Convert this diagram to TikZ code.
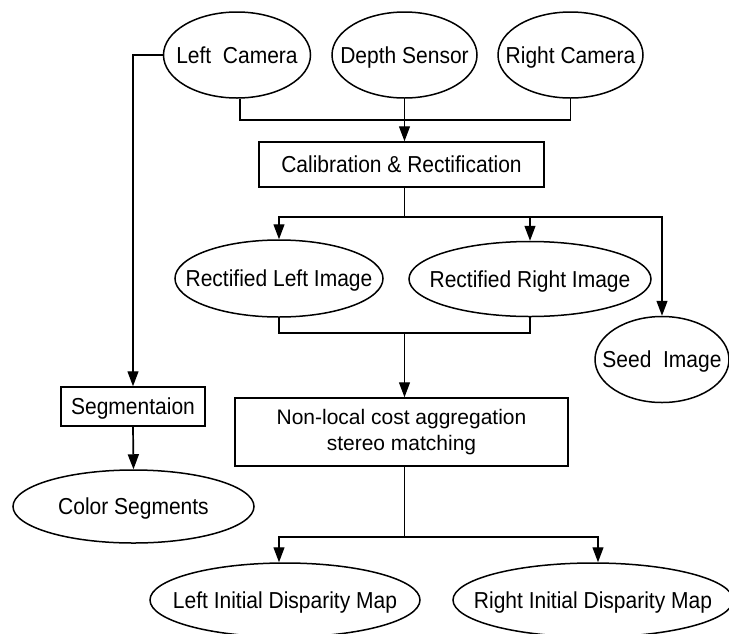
\documentclass[tikz,border=0pt]{standalone}
\usepackage{fontspec}
\setmainfont{Liberation Sans}
\usetikzlibrary{shapes.geometric,arrows.meta}
\newcommand{\zt}[1]{\raisebox{-0.39em}[0pt][0pt]{\makebox[0pt]{\scalebox{1}[1.1]{#1}}}}
\begin{document}
\begin{tikzpicture}[x=1pt,y=-1pt,
  every node/.style={font=\fontsize{21}{26}\selectfont, inner sep=0pt},
  ell/.style={shape=ellipse, draw, line width=1.5pt},
  boxx/.style={shape=rectangle, draw, line width=1.5pt},
  conn/.style={line width=1.3pt},
  arr/.style={conn, -{Triangle[length=15pt,width=11pt]}}]
\useasboundingbox (0,0) rectangle (729,633);
% nodes
\node[ell, minimum width=147, minimum height=86] (lc) at (237,55) {\zt{Left\ \ Camera}};
\node[ell, minimum width=145, minimum height=86] (ds) at (404.5,55) {\zt{Depth Sensor}};
\node[ell, minimum width=145, minimum height=86] (rc) at (570.5,55) {\zt{Right Camera}};
\node[boxx, minimum width=285, minimum height=45] (cal) at (401.5,164.5) {\zt{Calibration \& Rectification}};
\node[ell, minimum width=208, minimum height=77] (rli) at (279,278.5) {\zt{Rectified Left Image}};
\node[ell, minimum width=242, minimum height=75] (rri) at (530,279) {\zt{Rectified Right Image}};
\node[ell, minimum width=134, minimum height=86] (seed) at (662,359.5) {\zt{Seed\ \ Image}};
\node[boxx, minimum width=144, minimum height=39] (seg) at (133,406.5) {\zt{Segmentaion}};
\node[boxx, minimum width=333, minimum height=68, align=center] (nl) at (401.5,432) {Non-local cost aggregation\\stereo matching};
\node[ell, minimum width=241, minimum height=73] (cs) at (133.5,506.5) {\zt{Color Segments}};
\node[ell, minimum width=270, minimum height=74] (lid) at (285,600) {\zt{Left Initial Disparity Map}};
\node[ell, minimum width=280, minimum height=74] (rid) at (593,600) {\zt{Right Initial Disparity Map}};
% junctions
\coordinate (j1) at (404.5,120);
\coordinate (j2) at (404.5,217);
\coordinate (j3) at (404.5,333);
\coordinate (j4) at (404.5,537);
% connectors
\draw[arr] (lc.west) -| (seg.north);
\draw[conn] ([xshift=3]lc.south) |- (j1) -| (rc.south);
\draw[arr] (ds.south) -- (cal.north -| ds.south);
\draw[conn] (cal.south -| j2) -- (j2);
\draw[arr] (j2) -| (rli.north);
\draw[arr] (j2) -| (seed.north);
\draw[arr] (rri.north |- j2) -- (rri.north);
\draw[conn] (rli.south) |- (j3) -| (rri.south);
\draw[arr] (j3) -- (nl.north -| j3);
\draw[arr, line width=1.7pt] (seg.south) -- (cs.north);
\draw[conn] (nl.south -| j4) -- (j4);
\draw[arr] (j4) -| ([xshift=-6]lid.north);
\draw[arr] (j4) -| ([xshift=5]rid.north);
\end{tikzpicture}
\end{document}
